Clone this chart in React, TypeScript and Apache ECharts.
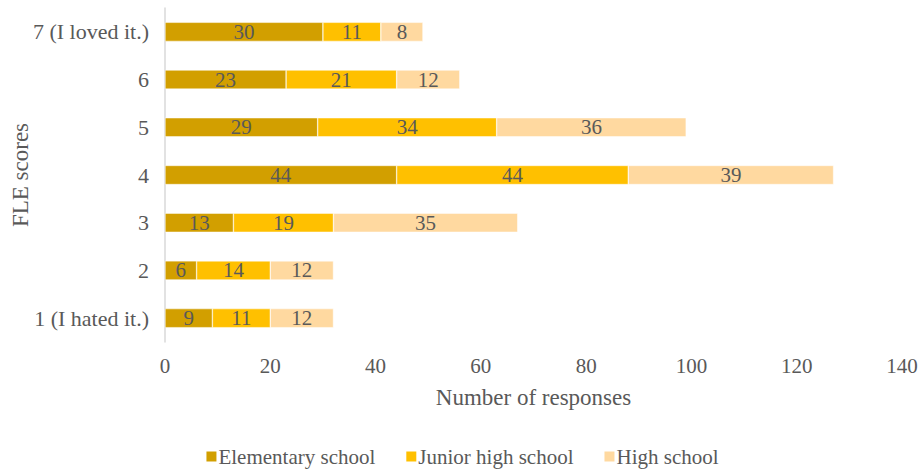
import React, { useEffect, useRef } from "react";
import * as echarts from "echarts";

const categories = ["1 (I hated it.)", "2", "3", "4", "5", "6", "7 (I loved it.)"];
const elementary = [9, 6, 13, 44, 29, 23, 30];
const juniorHigh = [11, 14, 19, 44, 34, 21, 11];
const highSchool = [12, 12, 35, 39, 36, 12, 8];
const seriesNames = ["Elementary school", "Junior high school", "High school"];
const colors = ["#D29F00", "#FFC000", "#FFD9A0"];

const FONT = "Liberation Serif";
const TEXT = "#595959";

export default function App() {
  const ref = useRef<HTMLDivElement>(null);
  useEffect(() => {
    if (!ref.current) return;
    const chart = echarts.init(ref.current, undefined, { renderer: "svg" });
    const data = [elementary, juniorHigh, highSchool];
    chart.setOption({
      animation: false,
      textStyle: { fontFamily: FONT },
      grid: {
        left: 165,
        right: 21,
        top: 8,
        bottom: 128,
        containLabel: false,
        outerBoundsMode: "none",
      },
      legend: {
        bottom: -2,
        left: "center",
        itemWidth: 12,
        itemHeight: 12,
        itemGap: 29,
        icon: "rect",
        textStyle: { fontFamily: FONT, fontSize: 21, color: TEXT, padding: [0, 0, 0, -4] },
        data: seriesNames,
      },
      xAxis: {
        type: "value",
        min: 0,
        max: 140,
        interval: 20,
        name: "Number of responses",
        nameLocation: "middle",
        nameGap: 44,
        nameMoveOverlap: false,
        nameTextStyle: { fontFamily: FONT, fontSize: 23, color: TEXT },
        axisLine: { show: false },
        axisTick: { show: false },
        splitLine: { show: false },
        axisLabel: { fontFamily: FONT, fontSize: 21, color: TEXT, margin: 13 },
      },
      yAxis: {
        type: "category",
        data: categories,
        name: "FLE scores",
        nameLocation: "middle",
        nameGap: 133,
        nameMoveOverlap: false,
        nameTextStyle: { fontFamily: FONT, fontSize: 23, color: TEXT },
        axisLine: { show: true, lineStyle: { color: "#D9D9D9", width: 1.5 } },
        axisTick: { show: false },
        axisLabel: { fontFamily: FONT, fontSize: 22, color: TEXT, margin: 16 },
      },
      series: seriesNames.map((name, i) => ({
        name,
        type: "bar",
        stack: "total",
        barWidth: "40%",
        data: data[i],
        itemStyle: { color: colors[i], borderColor: "#ffffff", borderWidth: 0.5 },
        label: {
          show: true,
          position: "inside",
          fontFamily: FONT,
          fontSize: 21,
          color: TEXT,
        },
      })),
    });
    return () => chart.dispose();
  }, []);
  return <div ref={ref} style={{ width: 923, height: 470, position: "absolute", left: 0, top: 0 }} />;
}
